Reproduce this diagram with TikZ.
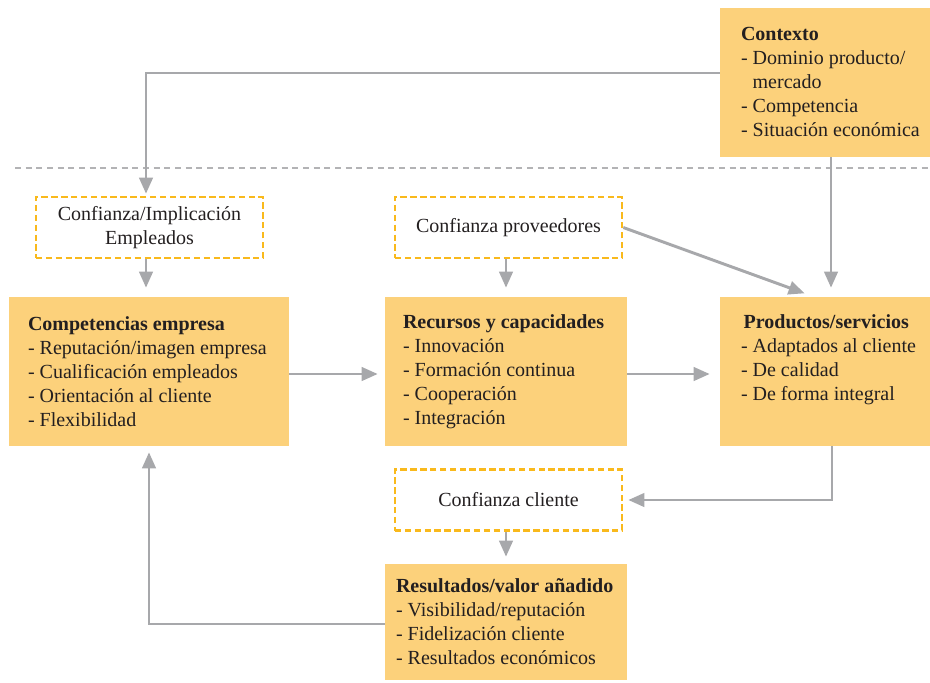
\documentclass[tikz,border=0pt]{standalone}
\usepackage{fontspec}
\setmainfont{Liberation Serif}
\usetikzlibrary{arrows.meta}
\definecolor{boxfill}{HTML}{FCD17B}
\definecolor{dashyel}{HTML}{F9B91C}
\definecolor{arrgray}{HTML}{A7A8AB}
\definecolor{sepgray}{HTML}{B3B3B5}
\definecolor{txt}{HTML}{231F20}
\begin{document}
\begin{tikzpicture}[x=0.75pt,y=-0.75pt,
  box/.style={fill=boxfill, draw=none, inner sep=0pt},
  dbox/.style={draw=dashyel, line width=1.9pt, dash pattern=on 4.8pt off 2.6pt, inner sep=0pt, align=center, text=txt, font=\fontsize{15}{18}\selectfont},
  btext/.style={anchor=west, align=left, inner sep=0pt, text=txt, font=\fontsize{15}{18}\selectfont},
  arr/.style={draw=arrgray, line width=2.2pt, -{Triangle[length=12pt,width=10pt]}},
  sep/.style={draw=sepgray, line width=1.6pt, dash pattern=on 4.5pt off 3.5pt}
]
\useasboundingbox (0,0) rectangle (930,682);

% main boxes
\node[box, minimum width=210*0.75pt, minimum height=149*0.75pt] (ctx) at (825,82.5) {};
\node[btext] (ctxt) at ([xshift=21*0.75pt,yshift=0.75pt]ctx.west) {\textbf{Contexto}\\- Dominio producto/\\\phantom{- }mercado\\- Competencia\\- Situación económica};

\node[box, minimum width=280*0.75pt, minimum height=149*0.75pt] (comp) at (149,371.5) {};
\node[btext] (compt) at ([xshift=19*0.75pt]comp.west) {\textbf{Competencias empresa}\\- Reputación/imagen empresa\\- Cualificación empleados\\- Orientación al cliente\\- Flexibilidad};

\node[box, minimum width=242*0.75pt, minimum height=149*0.75pt] (rec) at (506,371.5) {};
\node[btext] (rect) at ([xshift=18*0.75pt]rec.west) {\textbf{Recursos y capacidades}\\- Innovación\\- Formación continua\\- Cooperación\\- Integración};

\node[box, minimum width=210*0.75pt, minimum height=149*0.75pt] (prod) at (825,371.5) {};
\node[btext] (prodt) at ([xshift=21*0.75pt,yshift=-1.5*0.75pt]prod.west) {\textbf{\hspace{2pt}Productos/servicios}\\- Adaptados al cliente\\- De calidad\\- De forma integral\\\strut};

\node[box, minimum width=242*0.75pt, minimum height=116*0.75pt] (res) at (506,622) {};
\node[btext] (rest) at ([xshift=11*0.75pt]res.west) {\textbf{Resultados/valor añadido}\\- Visibilidad/reputación\\- Fidelización cliente\\- Resultados económicos};

% dashed boxes
\node[dbox, minimum width=227*0.75pt, minimum height=61*0.75pt] (emp) at (149.5,227.5) {Confianza/Implicación\\Empleados};
\node[dbox, minimum width=227*0.75pt, minimum height=61*0.75pt] (prov) at (508.5,227.5) {Confianza proveedores};
\node[dbox, minimum width=227*0.75pt, minimum height=61*0.75pt] (cli) at (508.5,500) {Confianza cliente};

% separator
\draw[sep] (15,168) -- (930,168);

% connectors
\draw[arr, shorten >=2*0.75pt] ([yshift=9.5*0.75pt]ctx.west) -| ([xshift=-3.5*0.75pt]emp.north);
\draw[arr, shorten >=9*0.75pt] ([xshift=-3.5*0.75pt]emp.south) -- ([xshift=-3.5*0.75pt]emp.south |- comp.north);
\draw[arr, shorten >=9*0.75pt] ([xshift=-2.5*0.75pt]prov.south) -- ([xshift=-2.5*0.75pt]prov.south |- rec.north);
\draw[arr, shorten >=9*0.75pt] ([xshift=6*0.75pt]ctx.south) -- ([xshift=6*0.75pt]prod.north);
\draw[arr, shorten >=10*0.75pt] (prov.east) -- ([xshift=-11*0.75pt]prod.north);
\draw[arr, shorten >=7*0.75pt] (comp.east |- 0,374) -- (rec.west |- 0,374);
\draw[arr, shorten >=10*0.75pt] (rec.east |- 0,374) -- (prod.west |- 0,374);
\draw[arr, shorten >=5*0.75pt] ([xshift=7*0.75pt]prod.south) |- (cli.east);
\draw[arr, shorten >=7*0.75pt] ([xshift=-2.5*0.75pt]cli.south) -- ([xshift=-2.5*0.75pt]cli.south |- res.north);
\draw[arr, shorten >=6*0.75pt] (res.west |- 0,624) -| (comp.south);
\end{tikzpicture}
\end{document}
